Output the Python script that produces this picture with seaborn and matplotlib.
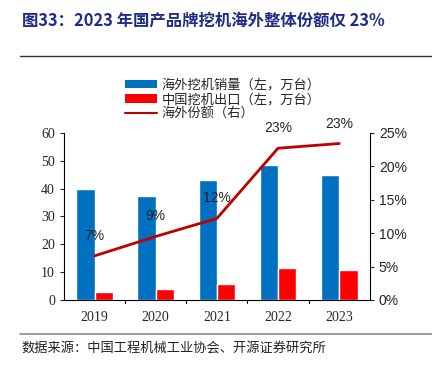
import matplotlib.pyplot as plt
import matplotlib.ticker as mtick
from matplotlib.patches import Patch
from matplotlib.lines import Line2D
import seaborn as sns
import pandas as pd

years = ["2019", "2020", "2021", "2022", "2023"]
overseas_sales = [39.9, 37.4, 43.1, 48.3, 45.0]
china_export = [2.9, 3.8, 5.8, 11.4, 10.8]
overseas_share = [0.066, 0.095, 0.122, 0.227, 0.234]
share_labels = ["7%", "9%", "12%", "23%", "23%"]

name_sales = "海外挖机销量（左，万台）"
name_export = "中国挖机出口（左，万台）"
name_share = "海外份额（右）"

df = pd.DataFrame({
    "year": years * 2,
    "value": overseas_sales + china_export,
    "series": [name_sales] * 5 + [name_export] * 5,
})

sns.set_style("white")
plt.rcParams['font.family'] = ['Noto Sans CJK SC', 'DejaVu Sans']

blue = "#0070C0"
red = "#FF0000"
dark_red = "#C00000"
serif = ["Liberation Serif", "DejaVu Serif"]
sans = ["Liberation Sans", "DejaVu Sans"]

fig = plt.figure(figsize=(4.32, 3.69), dpi=100)
ax = fig.add_axes([0.148, 0.187, 0.708, 0.453])

sns.barplot(data=df, x="year", y="value", hue="series", palette=[blue, red],
            width=0.6, gap=0, saturation=1, ax=ax, legend=False)
ax.set_ylim(0, 60)
ax.set_yticks(range(0, 61, 10))
ax.set_xlim(-0.5, 4.5)
ax.set_xlabel("")
ax.set_ylabel("")
for lab in ax.get_yticklabels() + ax.get_xticklabels():
    lab.set_family(serif)
    lab.set_fontsize(10)
ax.tick_params(axis="x", length=0, pad=8)
ax.tick_params(axis="y", length=3, direction="out", left=True, width=0.8)
for x in [0.5, 1.5, 2.5, 3.5]:
    ax.plot([x, x], [0, -1.2], color="black", lw=0.8, clip_on=False)

ax2 = ax.twinx()
sns.lineplot(x=years, y=overseas_share, color=dark_red, linewidth=2, ax=ax2)
ax2.set_ylim(0, 0.25)
ax2.set_yticks([0, 0.05, 0.10, 0.15, 0.20, 0.25])
ax2.yaxis.set_major_formatter(mtick.PercentFormatter(1.0, decimals=0))
ax2.tick_params(axis="y", length=3, direction="out", right=True, width=0.8, labelsize=10)
for lab in ax2.get_yticklabels():
    lab.set_family(sans)

for i, (v, t) in enumerate(zip(overseas_share, share_labels)):
    ax2.annotate(t, (i, v), xytext=(0, 20), textcoords="offset pixels",
                 ha="center", va="center", fontsize=10, family=sans)

for a in (ax, ax2):
    a.spines["top"].set_visible(False)
    for s in ["left", "right", "bottom"]:
        a.spines[s].set_color("black")
ax.spines["right"].set_visible(False)
ax2.spines["left"].set_visible(False)
ax2.spines["bottom"].set_visible(False)

handles = [
    Patch(facecolor=blue, edgecolor="none"),
    Patch(facecolor=red, edgecolor="none"),
    Line2D([0], [0], color=dark_red, lw=1.5),
]
fig.legend(handles, [name_sales, name_export, name_share], loc="upper left",
           bbox_to_anchor=(0.275, 0.805), frameon=False, fontsize=9.5,
           handlelength=2.4, handleheight=0.6, handletextpad=0.35, labelspacing=0.12,
           borderpad=0)

fig.text(0.05, 0.945, "图33：2023 年国产品牌挖机海外整体份额仅 23%", fontsize=11.8,
         fontweight="bold", color="#1F2C86", ha="left", va="center")
fig.add_artist(Line2D([0.047, 1.0], [0.848, 0.848], color="#333333", lw=1.0))
fig.add_artist(Line2D([0.047, 1.0], [0.095, 0.095], color="#888888", lw=1.2))
fig.text(0.05, 0.057, "数据来源：中国工程机械工业协会、开源证券研究所", fontsize=9.5,
         color="#222222", ha="left", va="center")

fig.savefig("out.png", dpi=100)
